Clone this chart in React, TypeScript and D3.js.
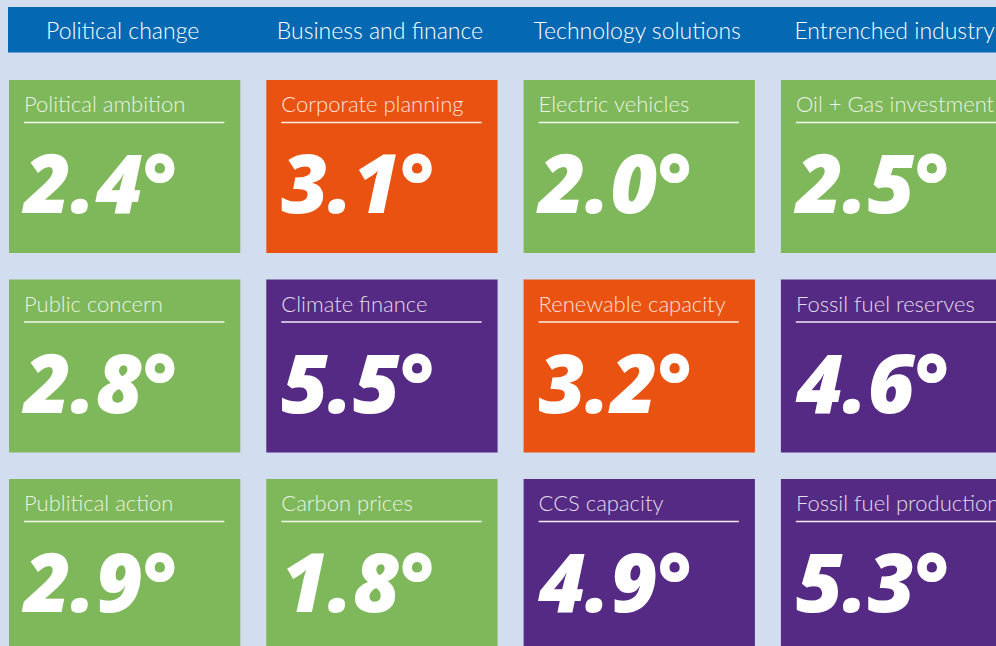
import React from "react";
import * as d3 from "d3";

const categories = ["Political change", "Business and finance", "Technology solutions", "Entrenched industry"];
const rowIndex = [0, 1, 2];
const labels = [
  ["Political ambition", "Public concern", "Publitical action"],
  ["Corporate planning", "Climate finance", "Carbon prices"],
  ["Electric vehicles", "Renewable capacity", "CCS capacity"],
  ["Oil + Gas investment", "Fossil fuel reserves", "Fossil fuel production"],
];
const values = [
  [2.4, 2.8, 2.9],
  [3.1, 5.5, 1.8],
  [2.0, 3.2, 4.9],
  [2.5, 4.6, 5.3],
];
const statuses = [
  ["good", "good", "good"],
  ["mid", "bad", "good"],
  ["good", "mid", "bad"],
  ["good", "bad", "bad"],
];

const statusColor: Record<string, string> = { good: "#7fb85a", mid: "#ea5212", bad: "#552a84" };

const W = 996, H = 646;

export default function App() {
  const x = d3.scaleBand<number>().domain(d3.range(categories.length)).range([9, 9 + 257.3 * 4 - 26]).paddingInner(26 / 257.3).paddingOuter(0);
  const y = d3.scaleBand<number>().domain(rowIndex).range([80, 80 + 199.5 * 3 - 26.5]).paddingInner(26.5 / 199.5).paddingOuter(0);
  const bw = x.bandwidth();
  const bh = y.bandwidth();
  return (
    <svg width={W} height={H} style={{ position: "absolute", left: 0, top: 0, display: "block" }}>
      <rect x={0} y={0} width={W} height={H} fill="#d3ddf0" />
      <rect x={8} y={7} width={W - 8} height={45.5} fill="#0568b3" />
      {categories.map((c, i) => (
        <text key={c} x={(x(i) as number) + bw / 2 - 2} y={38.5} textAnchor="middle" fill="#ffffff"
          fontFamily="Lato, 'Open Sans', sans-serif" fontWeight={300} fontSize={23}>{c}</text>
      ))}
      {categories.map((c, i) =>
        rowIndex.map((r) => {
          const x0 = x(i) as number;
          const y0 = y(r) as number;
          return (
            <g key={c + r} transform={`translate(${x0},${y0})`}>
              <rect width={bw} height={bh} fill={statusColor[statuses[i][r]]} />
              <text x={15} y={32} fill="#ffffff" fillOpacity={0.85} fontFamily="Lato, 'Open Sans', sans-serif"
                fontWeight={300} fontSize={22}>{labels[i][r]}</text>
              <line x1={15} x2={bw - 16} y1={42.5} y2={42.5} stroke="#ffffff" strokeOpacity={0.9} strokeWidth={1.5} />
              <text x={15} y={133} fill="#ffffff" fontFamily="'Open Sans', Lato, sans-serif" fontWeight={800}
                fontStyle="italic" fontSize={81}>{d3.format(".1f")(values[i][r])}°</text>
            </g>
          );
        })
      )}
    </svg>
  );
}
